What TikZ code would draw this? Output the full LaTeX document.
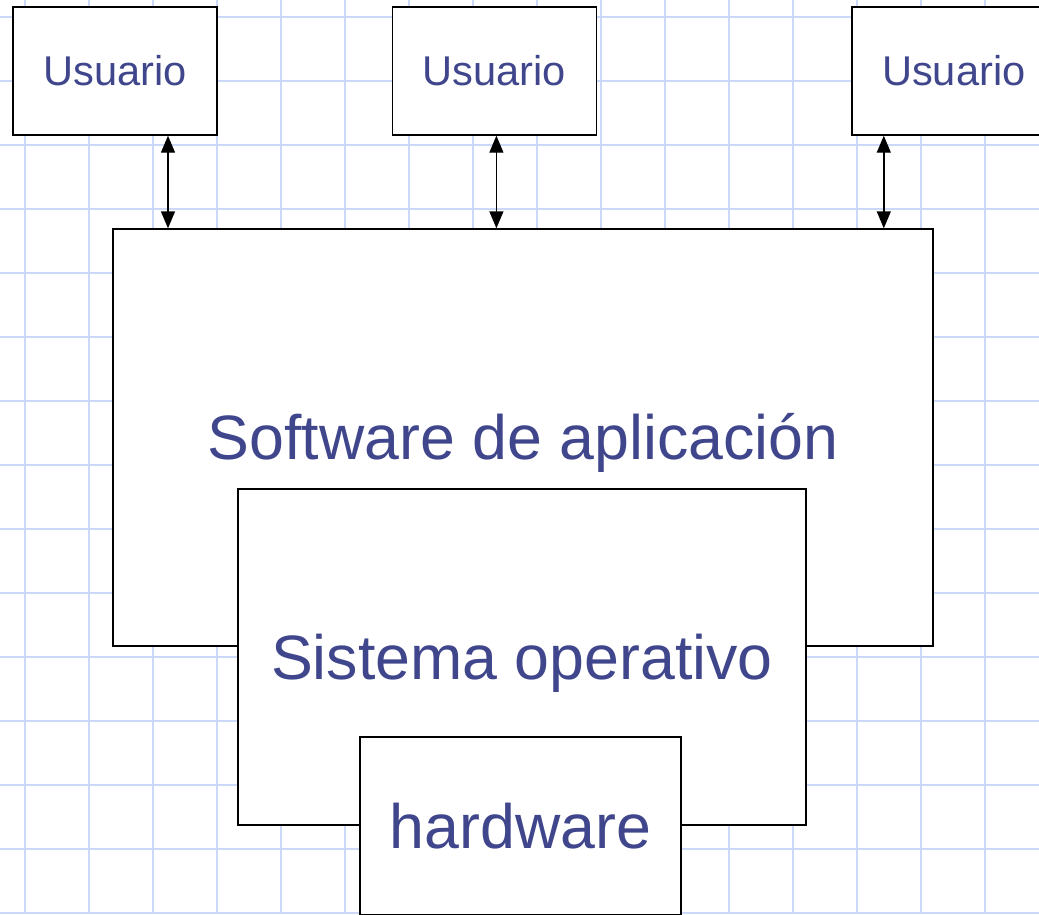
\documentclass[tikz,border=0pt]{standalone}
\usepackage{fontspec}
\setmainfont{Liberation Sans}
\usetikzlibrary{positioning,arrows.meta}
\definecolor{gridblue}{RGB}{204,216,248}
\definecolor{textblue}{RGB}{64,70,140}
\tikzset{
  caja/.style={draw, line width=1.4pt, fill=white, inner sep=0pt, text=textblue},
  usuario/.style={caja, minimum width=204pt, minimum height=128pt,
    font=\fontsize{41.6}{49}\selectfont, text height=29.5pt, text depth=0pt},
  capa/.style={caja, font=\fontsize{62.7}{74}\selectfont, text height=44.5pt, text depth=0pt},
  flecha/.style={{Triangle[width=14pt,length=17pt]}-{Triangle[width=14pt,length=17pt]}, line width=1.4pt}
}
\begin{document}
\begin{tikzpicture}[x=1pt,y=-1pt]
\useasboundingbox (0,0) rectangle (1039,914);
\clip (0,0) rectangle (1039,914);
% cuadricula
\foreach \x in {25,89,...,985} \draw[gridblue,line width=2.6pt] (\x,0) -- (\x,914);
\foreach \y in {17,81,...,913} \draw[gridblue,line width=2.6pt] (0,\y) -- (1039,\y);

\node[usuario] at (115,71) (u1) {Usuario};
\node[usuario, right=174pt of u1] (u2) {Usuario};
\node[usuario, right=254pt of u2] (u3) {Usuario};

\node[capa, minimum width=820pt, minimum height=417pt] at (523,437.5) (sw) {Software de aplicación};
\node[capa, minimum width=568pt, minimum height=336pt] at (522,657) (so) {Sistema operativo};
\node[capa, minimum width=321pt, minimum height=178pt] at (520.5,826) (hw) {hardware};

\draw[flecha] ([xshift=53pt]u1.south) -- ([xshift=53pt]u1.south |- sw.north);
\draw[flecha] ([xshift=2pt]u2.south) -- ([xshift=2pt]u2.south |- sw.north);
\draw[flecha] ([xshift=-70pt]u3.south) -- ([xshift=-70pt]u3.south |- sw.north);
\end{tikzpicture}
\end{document}
